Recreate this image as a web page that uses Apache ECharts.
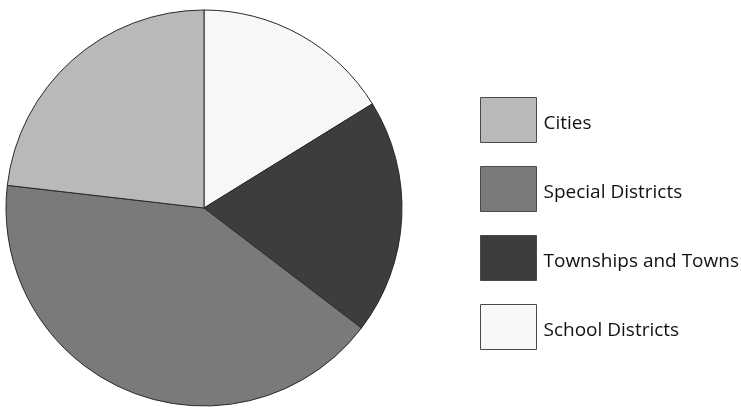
<!DOCTYPE html>
<html>
<head>
<meta charset="utf-8">
<script src="https://cdn.jsdelivr.net/npm/echarts@6/dist/echarts.min.js"></script>
<style>
  html, body { margin: 0; padding: 0; background: #ffffff; }
  #chart { width: 741px; height: 410px; }
</style>
</head>
<body>
<div id="chart"></div>
<script>
// Slices in drawing order (clockwise from 12 o'clock)
const categories = ['School Districts', 'Townships and Towns', 'Special Districts', 'Cities'];
const shares = [16.2, 19.2, 41.5, 23.2];
const sliceColors = ['#f7f7f7', '#3d3d3d', '#7a7a7a', '#b9b9b9'];
// Legend order, top to bottom
const legendOrder = ['Cities', 'Special Districts', 'Townships and Towns', 'School Districts'];

const chart = echarts.init(document.getElementById('chart'), null, { renderer: 'canvas' });

chart.setOption({
  animation: false,
  backgroundColor: '#ffffff',
  legend: {
    data: legendOrder,
    orient: 'vertical',
    left: 480,
    top: 97,
    padding: 0,
    itemWidth: 56,
    itemHeight: 45,
    itemGap: 23,
    icon: 'rect',
    selectedMode: false,
    itemStyle: { borderColor: '#4a4a4a', borderWidth: 1 },
    formatter: name => '{t|' + name + '}',
    textStyle: {
      fontFamily: 'Open Sans',
      fontSize: 19,
      color: '#111111',
      rich: {
        t: {
          fontFamily: 'Open Sans',
          fontSize: 19,
          color: '#111111',
          padding: [8, 0, 0, 2]
        }
      }
    }
  },
  series: [{
    type: 'pie',
    center: [204, 208],
    radius: 198,
    startAngle: 90,
    clockwise: true,
    label: { show: false },
    labelLine: { show: false },
    emphasis: { disabled: true },
    itemStyle: { borderColor: '#2a2a2a', borderWidth: 1 },
    data: categories.map((name, i) => ({
      name: name,
      value: shares[i],
      itemStyle: { color: sliceColors[i] }
    }))
  }]
});
</script>
</body>
</html>
